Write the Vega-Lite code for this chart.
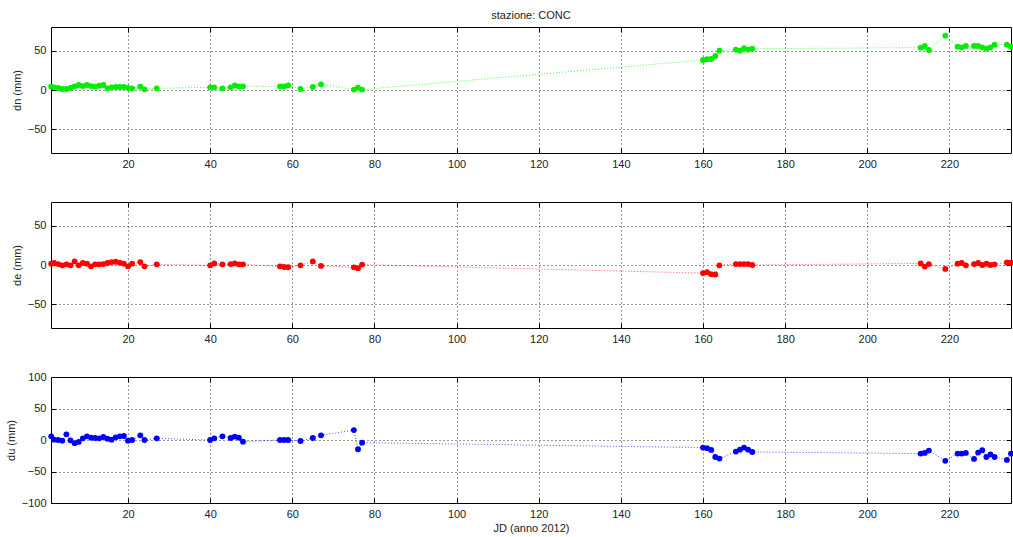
{
  "$schema": "https://vega.github.io/schema/vega-lite/v6.json",
  "background": "white",
  "padding": {"left": 4, "top": 9, "right": 0, "bottom": 0},
  "bounds": "flush",
  "spacing": 49,
  "config": {
    "font": "Liberation Sans",
    "view": {"stroke": "#000", "strokeWidth": 1},
    "axis": {
      "labelFont": "Liberation Sans", "labelFontSize": 11, "labelColor": "#222",
      "titleFont": "Liberation Sans", "titleFontSize": 11, "titleFontWeight": "normal", "titleColor": "#222",
      "domain": false, "grid": true, "gridColor": "#000", "gridDash": [1, 3], "gridOpacity": 0.8, "gridWidth": 1,
      "ticks": true, "tickColor": "#000", "tickSize": -5, "labelPadding": 10
    },
    "title": {"font": "Liberation Sans", "fontSize": 11, "fontWeight": "normal", "color": "#222"}
  },
  "datasets": {
    "conc": [
      {"jd": 1.3, "dn": 4.7, "de": 1.7, "du": 5.8},
      {"jd": 2, "dn": 3.4, "de": 2.5, "du": 0.5},
      {"jd": 3, "dn": 2.5, "de": 1.2, "du": 0},
      {"jd": 4, "dn": 1.3, "de": -0.4, "du": -1},
      {"jd": 5, "dn": 1.3, "de": 0.8, "du": 9},
      {"jd": 6, "dn": 2.5, "de": -0.4, "du": -0.5},
      {"jd": 7, "dn": 4.7, "de": 4.5, "du": -5},
      {"jd": 8, "dn": 6.4, "de": -0.4, "du": -3},
      {"jd": 9, "dn": 5, "de": 2.5, "du": 2.6},
      {"jd": 10, "dn": 6.4, "de": 1.7, "du": 5.8},
      {"jd": 11, "dn": 5, "de": -1.7, "du": 3.7},
      {"jd": 12, "dn": 4.2, "de": 0.8, "du": 3.2},
      {"jd": 13, "dn": 5.5, "de": 0.8, "du": 2.6},
      {"jd": 14, "dn": 6.4, "de": 1.2, "du": 4.7},
      {"jd": 15, "dn": 2.1, "de": 2.5, "du": 2},
      {"jd": 16, "dn": 3.4, "de": 3.7, "du": 0.5},
      {"jd": 17, "dn": 3.8, "de": 4.1, "du": 4.2},
      {"jd": 18, "dn": 3.8, "de": 2.9, "du": 5.8},
      {"jd": 19, "dn": 3.8, "de": 1.7, "du": 6.3},
      {"jd": 20, "dn": 2.5, "de": -1.7, "du": -1},
      {"jd": 21, "dn": 2.1, "de": 1.7, "du": 0},
      {"jd": 23, "dn": 4.2, "de": 3.7, "du": 7.4},
      {"jd": 24, "dn": 0.8, "de": -1.7, "du": 0},
      {"jd": 27, "dn": 2.1, "de": 0.8, "du": 2.6},
      {"jd": 40, "dn": 3.4, "de": -0.4, "du": 0},
      {"jd": 41, "dn": 3.4, "de": 2, "du": 2.6},
      {"jd": 43, "dn": 2.1, "de": 0.8, "du": 5.8},
      {"jd": 45, "dn": 3.4, "de": 1.2, "du": 3.2},
      {"jd": 46, "dn": 5.9, "de": 2, "du": 5.3},
      {"jd": 47, "dn": 4.7, "de": 0.8, "du": 3.7},
      {"jd": 48, "dn": 4.7, "de": 0.8, "du": -2.6},
      {"jd": 57, "dn": 4.7, "de": -1.7, "du": 0},
      {"jd": 58, "dn": 4.7, "de": -2.5, "du": 0},
      {"jd": 59, "dn": 5.9, "de": -2.9, "du": 0},
      {"jd": 62, "dn": 1.3, "de": -0.4, "du": -1.6},
      {"jd": 65, "dn": 3.8, "de": 4.5, "du": 3.2},
      {"jd": 67, "dn": 7.2, "de": -1.2, "du": 7.4},
      {"jd": 75, "dn": 0.5, "de": -3, "du": 15.8},
      {"jd": 76, "dn": 3, "de": -4, "du": -14.7},
      {"jd": 77, "dn": 0.5, "de": 0.5, "du": -4.2},
      {"jd": 160, "dn": 38.1, "de": -10.3, "du": -12},
      {"jd": 161, "dn": 39, "de": -9.1, "du": -13},
      {"jd": 162, "dn": 39.4, "de": -11.6, "du": -15.8},
      {"jd": 163, "dn": 43.2, "de": -12, "du": -27},
      {"jd": 164, "dn": 50, "de": -0.4, "du": -29.5},
      {"jd": 168, "dn": 51.3, "de": 1.2, "du": -18.4},
      {"jd": 169, "dn": 50, "de": 1.2, "du": -15.3},
      {"jd": 170, "dn": 53, "de": 1.2, "du": -12},
      {"jd": 171, "dn": 51.3, "de": 1.2, "du": -15.3},
      {"jd": 172, "dn": 52.5, "de": 0, "du": -19},
      {"jd": 213, "dn": 53.8, "de": 2, "du": -21.6},
      {"jd": 214, "dn": 55.9, "de": -2, "du": -20.5},
      {"jd": 215, "dn": 50.8, "de": 1.2, "du": -16.8},
      {"jd": 219, "dn": 69, "de": -5, "du": -33},
      {"jd": 222, "dn": 55, "de": 1.7, "du": -21.6},
      {"jd": 223, "dn": 54.2, "de": 2.5, "du": -21.6},
      {"jd": 224, "dn": 55.9, "de": -0.4, "du": -20.5},
      {"jd": 226, "dn": 55.9, "de": 1.2, "du": -30},
      {"jd": 227, "dn": 55.9, "de": 2.5, "du": -20},
      {"jd": 228, "dn": 54.2, "de": 0, "du": -16.3},
      {"jd": 229, "dn": 52.5, "de": 1.7, "du": -27},
      {"jd": 230, "dn": 54.2, "de": 0, "du": -23},
      {"jd": 231, "dn": 57.6, "de": 0.8, "du": -27},
      {"jd": 234, "dn": 57.6, "de": 3.3, "du": -31.6},
      {"jd": 235, "dn": 55, "de": 2.9, "du": -21.6}
    ]
  },
  "vconcat": [
    {
      "width": 960, "height": 126,
      "title": {"text": "stazione: CONC", "offset": 6},
      "data": {"name": "conc"},
      "resolve": {"axis": {"x": "independent", "y": "independent"}},
      "layer": [
        {
          "mark": {"type": "line", "color": "#00ff00", "strokeDash": [1, 2], "strokeWidth": 1, "opacity": 0.7, "clip": false},
          "encoding": {
            "x": {"field": "jd", "type": "quantitative", "scale": {"domain": [1.25, 235], "nice": false, "zero": false},
                  "axis": {"values": [20, 40, 60, 80, 100, 120, 140, 160, 180, 200, 220], "title": null}},
            "y": {"field": "dn", "type": "quantitative", "scale": {"domain": [-80, 80], "nice": false},
                  "axis": {"values": [-50, 0, 50], "title": "dn (mm)", "titlePadding": 5}}
          }
        },
        {
          "mark": {"type": "point", "filled": true, "color": "#00ee00", "opacity": 1, "size": 34, "clip": false},
          "encoding": {
            "x": {"field": "jd", "type": "quantitative",
                  "axis": {"orient": "top", "values": [20, 40, 60, 80, 100, 120, 140, 160, 180, 200, 220], "labels": false, "grid": false, "title": null}},
            "y": {"field": "dn", "type": "quantitative",
                  "axis": {"orient": "right", "values": [-50, 0, 50], "labels": false, "grid": false, "title": null}}
          }
        }
      ]
    },
    {
      "width": 960, "height": 126,
      "data": {"name": "conc"},
      "resolve": {"axis": {"x": "independent", "y": "independent"}},
      "layer": [
        {
          "mark": {"type": "line", "color": "#ff0000", "strokeDash": [1, 2], "strokeWidth": 1, "opacity": 0.7, "clip": false},
          "encoding": {
            "x": {"field": "jd", "type": "quantitative", "scale": {"domain": [1.25, 235], "nice": false, "zero": false},
                  "axis": {"values": [20, 40, 60, 80, 100, 120, 140, 160, 180, 200, 220], "title": null}},
            "y": {"field": "de", "type": "quantitative", "scale": {"domain": [-80, 80], "nice": false},
                  "axis": {"values": [-50, 0, 50], "title": "de (mm)", "titlePadding": 5}}
          }
        },
        {
          "mark": {"type": "point", "filled": true, "color": "#ff0000", "opacity": 1, "size": 34, "clip": false},
          "encoding": {
            "x": {"field": "jd", "type": "quantitative",
                  "axis": {"orient": "top", "values": [20, 40, 60, 80, 100, 120, 140, 160, 180, 200, 220], "labels": false, "grid": false, "title": null}},
            "y": {"field": "de", "type": "quantitative",
                  "axis": {"orient": "right", "values": [-50, 0, 50], "labels": false, "grid": false, "title": null}}
          }
        }
      ]
    },
    {
      "width": 960, "height": 126,
      "data": {"name": "conc"},
      "resolve": {"axis": {"x": "independent", "y": "independent"}},
      "layer": [
        {
          "mark": {"type": "line", "color": "#0000ff", "strokeDash": [1, 2], "strokeWidth": 1, "opacity": 0.7, "clip": false},
          "encoding": {
            "x": {"field": "jd", "type": "quantitative", "scale": {"domain": [1.25, 235], "nice": false, "zero": false},
                  "axis": {"values": [20, 40, 60, 80, 100, 120, 140, 160, 180, 200, 220], "title": "JD (anno 2012)", "titlePadding": 3}},
            "y": {"field": "du", "type": "quantitative", "scale": {"domain": [-100, 100], "nice": false},
                  "axis": {"values": [-100, -50, 0, 50, 100], "title": "du (mm)", "titlePadding": 5}}
          }
        },
        {
          "mark": {"type": "point", "filled": true, "color": "#0000ff", "opacity": 1, "size": 34, "clip": false},
          "encoding": {
            "x": {"field": "jd", "type": "quantitative",
                  "axis": {"orient": "top", "values": [20, 40, 60, 80, 100, 120, 140, 160, 180, 200, 220], "labels": false, "grid": false, "title": null}},
            "y": {"field": "du", "type": "quantitative",
                  "axis": {"orient": "right", "values": [-100, -50, 0, 50, 100], "labels": false, "grid": false, "title": null}}
          }
        }
      ]
    }
  ]
}
